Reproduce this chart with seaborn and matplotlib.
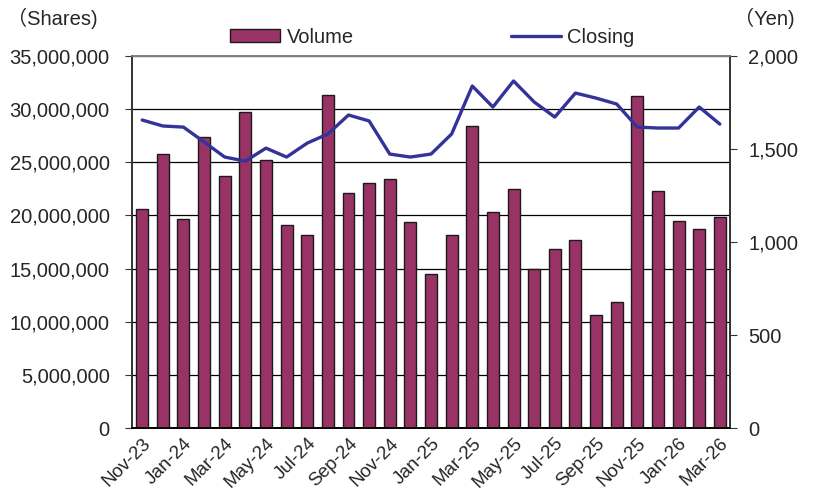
import numpy as np
import pandas as pd
import matplotlib
matplotlib.use('Agg')
import matplotlib.pyplot as plt
import matplotlib.ticker as ticker
from matplotlib.patches import Patch
from matplotlib.lines import Line2D
import seaborn as sns

months = ['Nov-23', 'Dec-23', 'Jan-24', 'Feb-24', 'Mar-24', 'Apr-24', 'May-24', 'Jun-24',
          'Jul-24', 'Aug-24', 'Sep-24', 'Oct-24', 'Nov-24', 'Dec-24', 'Jan-25', 'Feb-25',
          'Mar-25', 'Apr-25', 'May-25', 'Jun-25', 'Jul-25', 'Aug-25', 'Sep-25', 'Oct-25',
          'Nov-25', 'Dec-25', 'Jan-26', 'Feb-26', 'Mar-26']

volume = [20600000, 25800000, 19700000, 27400000, 23700000, 29700000, 25200000, 19100000,
          18200000, 31300000, 22100000, 23100000, 23400000, 19400000, 14500000, 18200000,
          28400000, 20300000, 22500000, 15000000, 16800000, 17700000, 10600000, 11900000,
          31200000, 22300000, 19500000, 18700000, 19900000]

closing = [1656, 1624, 1618, 1538, 1457, 1435, 1505, 1457, 1532, 1581, 1683, 1651, 1473,
           1457, 1473, 1581, 1839, 1726, 1866, 1753, 1672, 1801, 1774, 1742, 1618, 1613,
           1613, 1726, 1634]

BAR_COLOR = '#993366'
LINE_COLOR = '#333399'

df = pd.DataFrame({'pos': np.arange(len(months)), 'month': months,
                   'volume': volume, 'closing': closing})

sns.set_style('white')
plt.rcParams['font.family'] = ['Liberation Sans', 'Noto Sans CJK JP', 'DejaVu Sans']
FS = 14.5

fig = plt.figure(figsize=(8.14, 4.96), dpi=100)
ax = fig.add_axes([0.162, 0.137, 0.735, 0.750])

sns.barplot(data=df, x='pos', y='volume', color=BAR_COLOR, saturation=1, width=0.58,
            edgecolor='#1a1a1a', linewidth=1.0, ax=ax, zorder=3)

ax2 = ax.twinx()
sns.lineplot(data=df, x='pos', y='closing', color=LINE_COLOR, linewidth=2.4, ax=ax2,
             zorder=4)

ax.set_xlim(-0.5, len(months) - 0.5)
ax.set_ylim(0, 35000000)
ax2.set_ylim(0, 2000)
ax.yaxis.set_major_locator(ticker.MultipleLocator(5000000))
ax.yaxis.set_major_formatter(ticker.StrMethodFormatter('{x:,.0f}'))
ax2.yaxis.set_major_locator(ticker.MultipleLocator(500))
ax2.yaxis.set_major_formatter(ticker.StrMethodFormatter('{x:,.0f}'))

ax.set_xticks(range(0, len(months), 2))
ax.set_xticklabels(months[::2], rotation=45, ha='right', rotation_mode='anchor', fontsize=13.5)
ax.xaxis.set_minor_locator(ticker.FixedLocator(np.arange(1.5, len(months) - 1, 2)))
ax.tick_params(axis='x', which='major', length=0, pad=5)
ax.tick_params(axis='x', which='minor', length=4, direction='in', color='#333333')
ax.tick_params(axis='y', labelsize=FS, length=5, direction='out', color='#333333', pad=11)
ax2.tick_params(axis='y', labelsize=FS, length=5, direction='out', color='#333333', pad=8)

ax.grid(axis='y', color='black', linewidth=0.9, zorder=0)
ax.set_axisbelow(True)
ax.set_xlabel('')
ax.set_ylabel('')
ax2.set_xlabel('')
ax2.set_ylabel('')

for a in (ax, ax2):
    a.spines['top'].set_color('#808080')
    a.spines['left'].set_color('#333333')
    a.spines['right'].set_color('#333333')
    a.spines['bottom'].set_color('black')
    for s in a.spines.values():
        s.set_linewidth(1.2)

fig.text(0.008, 0.962, '（Shares)', fontsize=FS, ha='left', va='center')
fig.text(0.902, 0.962, '（Yen)', fontsize=FS, ha='left', va='center')

handles = [Patch(facecolor=BAR_COLOR, edgecolor='#1a1a1a', linewidth=1.0),
           Line2D([0], [0], color=LINE_COLOR, linewidth=2.4)]
fig.legend(handles, ['Volume', 'Closing'], loc='center', bbox_to_anchor=(0.531, 0.925),
           ncol=2, frameon=False, fontsize=FS, columnspacing=7.8, handlelength=2.5,
           handleheight=0.6, handletextpad=0.3)

fig.savefig('out.png', dpi=100)
